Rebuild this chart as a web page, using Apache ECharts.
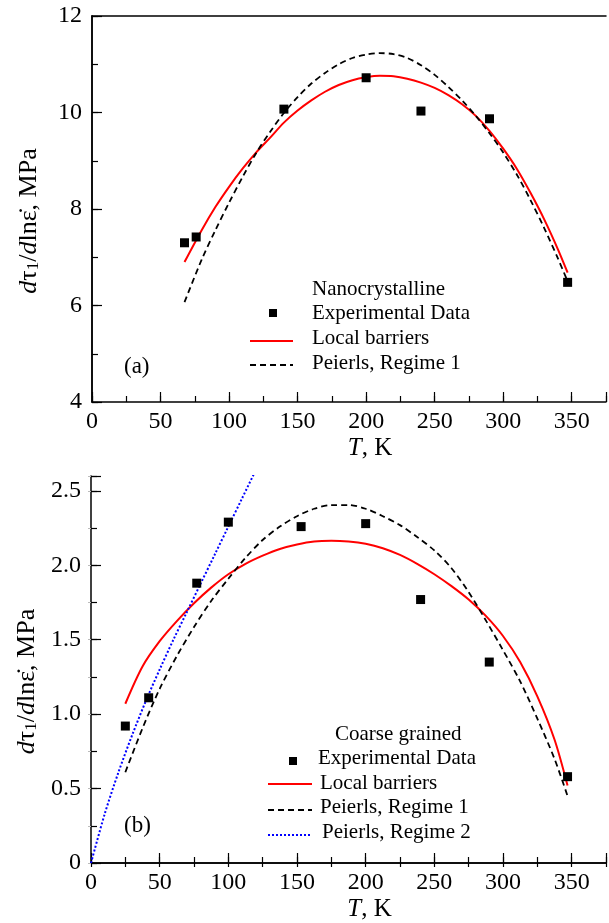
<!DOCTYPE html>
<html>
<head>
<meta charset="utf-8">
<script src="https://cdn.jsdelivr.net/npm/echarts@6.0.0/dist/echarts.min.js"></script>
<style>
  html, body { margin: 0; padding: 0; background: #fff; }
  #chart { width: 609px; height: 923px; }
</style>
</head>
<body>
<div id="chart"></div>
<script>
// (a) nanocrystalline
const expNanoT = [67.5, 76, 140, 200, 240, 290, 347];
const expNano = [7.30, 7.42, 10.07, 10.72, 10.03, 9.87, 6.48];

const localNanoT = [67.5, 80, 90, 100, 110, 120, 130, 140, 150, 160, 170, 180, 190, 200, 210, 220, 230, 240, 250, 260, 270, 280, 290, 300, 310, 320, 330, 340, 347];
const localNano = [6.90, 7.56, 8.04, 8.46, 8.84, 9.18, 9.48, 9.79, 10.04, 10.25, 10.43, 10.57, 10.67, 10.73, 10.76, 10.75, 10.70, 10.62, 10.51, 10.36, 10.17, 9.93, 9.62, 9.25, 8.83, 8.33, 7.78, 7.16, 6.68];

const peierlsNanoT = [67.5, 80, 90, 100, 110, 120, 130, 140, 150, 160, 170, 180, 190, 200, 210, 220, 230, 240, 250, 260, 270, 280, 290, 300, 310, 320, 330, 340, 347];
const peierlsNano = [6.07, 6.95, 7.56, 8.13, 8.67, 9.17, 9.60, 9.99, 10.32, 10.60, 10.82, 11.00, 11.13, 11.20, 11.23, 11.21, 11.13, 10.98, 10.78, 10.53, 10.25, 9.93, 9.57, 9.17, 8.71, 8.18, 7.60, 6.97, 6.50];

// (b) coarse grained
const expCoarseT = [25, 42, 77, 100, 153, 200, 240, 290, 347];
const expCoarse = [0.92, 1.11, 1.88, 2.29, 2.26, 2.28, 1.77, 1.35, 0.58];

const localCoarseT = [25, 37.5, 50, 62.5, 75, 87.5, 100, 112.5, 125, 137.5, 150, 162.5, 175, 187.5, 200, 212.5, 225, 237.5, 250, 262.5, 275, 287.5, 300, 312.5, 325, 337.5, 347];
const localCoarse = [1.07, 1.32, 1.49, 1.625, 1.745, 1.85, 1.94, 2.01, 2.065, 2.11, 2.14, 2.16, 2.165, 2.16, 2.145, 2.115, 2.07, 2.01, 1.94, 1.86, 1.77, 1.66, 1.525, 1.35, 1.12, 0.83, 0.52];

const peierls1CoarseT = [25, 37.5, 50, 62.5, 75, 87.5, 100, 112.5, 125, 137.5, 150, 162.5, 175, 187.5, 200, 212.5, 225, 237.5, 250, 262.5, 275, 287.5, 300, 312.5, 325, 337.5, 347];
const peierls1Coarse = [0.61, 0.905, 1.17, 1.39, 1.585, 1.76, 1.91, 2.05, 2.17, 2.26, 2.33, 2.38, 2.405, 2.405, 2.38, 2.33, 2.27, 2.19, 2.10, 1.98, 1.82, 1.63, 1.43, 1.22, 0.97, 0.70, 0.45];

const peierls2CoarseT = [0, 10, 20, 30, 40, 50, 60, 70, 80, 90, 100, 110, 120];
const peierls2Coarse = [0, 0.33, 0.61, 0.86, 1.09, 1.30, 1.50, 1.69, 1.88, 2.07, 2.26, 2.45, 2.64];

const xTicksMajor = 50;
const xTicksMinor = 25;

const FONT = '"Liberation Serif", "Times New Roman", serif';

function zip(xs, ys) {
    return xs.map((x, i) => [x, ys[i]]);
}

const chart = echarts.init(document.getElementById('chart'), null, { renderer: 'canvas' });

const axisLine = { show: true, lineStyle: { color: '#000', width: 1.5 } };
const labelStyle = { color: '#000', fontFamily: FONT, fontSize: 24 };

function xMajor(gridIndex) {
    return {
        type: 'value', gridIndex, position: 'bottom',
        min: 0, max: 375, interval: xTicksMajor,
        axisLine,
        axisTick: { show: true, inside: true, length: 10, lineStyle: { color: '#000', width: 1.2 } },
        axisLabel: {
            ...labelStyle, margin: 8,
            formatter: v => (v % 50 === 0 ? String(v) : '')
        },
        splitLine: { show: false },
        name: '{i|T}, K',
        nameLocation: 'middle',
        nameGap: 34,
        nameTextStyle: {
            color: '#000', fontFamily: FONT, fontSize: 25, padding: [0, 0, 0, 42],
            rich: { i: { fontStyle: 'italic', fontFamily: FONT, fontSize: 25 } }
        }
    };
}

function xMinor(gridIndex) {
    return {
        type: 'value', gridIndex, position: 'bottom',
        min: 0, max: 375, interval: xTicksMinor,
        axisLine: { show: false },
        axisTick: { show: true, inside: true, length: 6, lineStyle: { color: '#000', width: 1.2 } },
        axisLabel: { show: false },
        splitLine: { show: false }
    };
}

function xTop(gridIndex, ticks) {
    return {
        type: 'value', gridIndex, position: 'top',
        min: 0, max: 375, interval: xTicksMinor,
        axisLine,
        axisTick: { show: ticks, inside: true, length: 4, lineStyle: { color: '#000', width: 1.2 } },
        axisLabel: { show: false },
        splitLine: { show: false }
    };
}

const yName = '{i|d}τ{s|1}/{i|d}lnε̇, MPa';
const yNameStyle = {
    color: '#000', fontFamily: FONT, fontSize: 26,
    padding: [0, 24, 0, 0],
    rich: {
        i: { fontStyle: 'italic', fontFamily: FONT, fontSize: 26 },
        s: { fontFamily: FONT, fontSize: 17, verticalAlign: 'bottom', lineHeight: 20 }
    }
};

const lineCommon = { type: 'line', smooth: 0.3, showSymbol: false, z: 3 };
const scatterCommon = { type: 'scatter', symbol: 'rect', symbolSize: 9, itemStyle: { color: '#000', opacity: 1 }, z: 4 };

const option = {
    animation: false,
    backgroundColor: '#fff',
    textStyle: { fontFamily: FONT },
    grid: [
        { left: 92, top: 16, right: 2, height: 386 },
        { left: 91, top: 476, right: 1, height: 387 }
    ],
    xAxis: [
        xMajor(0),
        xMinor(0),
        xTop(0, false),
        xMajor(1),
        xMinor(1),
        xTop(1, true)
    ],
    yAxis: [
        {
            type: 'value', gridIndex: 0, position: 'left',
            min: 4, max: 12, interval: 2,
            axisLine,
            axisTick: { show: true, inside: true, length: 10, lineStyle: { color: '#000', width: 1.2 } },
            axisLabel: { ...labelStyle, margin: 10 },
            splitLine: { show: false },
            name: yName, nameLocation: 'middle', nameGap: 50, nameRotate: 90,
            nameTextStyle: yNameStyle
        },
        {
            type: 'value', gridIndex: 0, position: 'left',
            min: 4, max: 12, interval: 1,
            axisLine: { show: false },
            axisTick: { show: true, inside: true, length: 6, lineStyle: { color: '#000', width: 1.2 } },
            axisLabel: { show: false },
            splitLine: { show: false }
        },
        {
            type: 'value', gridIndex: 0, position: 'right',
            min: 4, max: 12,
            axisLine,
            axisTick: { show: false },
            axisLabel: { show: false },
            splitLine: { show: false }
        },
        {
            type: 'value', gridIndex: 1, position: 'left',
            min: 0, max: 2.6, interval: 0.5,
            axisLine,
            axisTick: { show: true, inside: true, length: 10, lineStyle: { color: '#000', width: 1.2 } },
            axisLabel: {
                ...labelStyle, margin: 10,
                formatter: v => {
                    if (Math.abs(v * 2 - Math.round(v * 2)) > 1e-6) return '';
                    return v === 0 ? '0' : v.toFixed(1);
                }
            },
            splitLine: { show: false },
            name: yName, nameLocation: 'middle', nameGap: 50, nameRotate: 90,
            nameTextStyle: yNameStyle
        },
        {
            type: 'value', gridIndex: 1, position: 'left',
            min: 0, max: 2.6, interval: 0.25,
            axisLine: { show: false },
            axisTick: { show: true, inside: true, length: 6, lineStyle: { color: '#000', width: 1.2 } },
            axisLabel: { show: false },
            splitLine: { show: false }
        },
        {
            type: 'value', gridIndex: 1, position: 'right',
            min: 0, max: 2.6, interval: 0.25,
            axisLine: { show: false },
            axisTick: { show: true, inside: true, length: 3, lineStyle: { color: '#bbb', width: 1 } },
            axisLabel: { show: false },
            splitLine: { show: false }
        }
    ],
    series: [
        {
            ...lineCommon, name: 'Local barriers (a)', xAxisIndex: 0, yAxisIndex: 0,
            data: zip(localNanoT, localNano),
            lineStyle: { color: '#f00', width: 2 }
        },
        {
            ...lineCommon, name: 'Peierls 1 (a)', xAxisIndex: 0, yAxisIndex: 0,
            data: zip(peierlsNanoT, peierlsNano),
            lineStyle: { color: '#000', width: 1.8, type: [6, 4] }
        },
        {
            ...scatterCommon, name: 'Experimental (a)', xAxisIndex: 0, yAxisIndex: 0,
            data: zip(expNanoT, expNano)
        },
        {
            ...lineCommon, name: 'Local barriers (b)', xAxisIndex: 3, yAxisIndex: 3,
            data: zip(localCoarseT, localCoarse),
            lineStyle: { color: '#f00', width: 2 }
        },
        {
            ...lineCommon, name: 'Peierls 1 (b)', xAxisIndex: 3, yAxisIndex: 3,
            data: zip(peierls1CoarseT, peierls1Coarse),
            lineStyle: { color: '#000', width: 1.8, type: [6, 4] }
        },
        {
            ...lineCommon, name: 'Peierls 2 (b)', xAxisIndex: 3, yAxisIndex: 3,
            data: zip(peierls2CoarseT, peierls2Coarse), clip: true,
            lineStyle: { color: '#00f', width: 2, type: [2, 2] }
        },
        {
            ...scatterCommon, name: 'Experimental (b)', xAxisIndex: 3, yAxisIndex: 3,
            data: zip(expCoarseT, expCoarse)
        }
    ],
    graphic: {
        elements: [
            // legend (a)
            { type: 'text', left: 312, top: 279, style: { text: 'Nanocrystalline', font: '21px "Liberation Serif"', fill: '#000' } },
            { type: 'rect', shape: { x: 269, y: 309, width: 8, height: 8 }, style: { fill: '#000' } },
            { type: 'text', left: 312, top: 303, style: { text: 'Experimental Data', font: '21px "Liberation Serif"', fill: '#000' } },
            { type: 'line', shape: { x1: 250, y1: 341, x2: 293, y2: 341 }, style: { stroke: '#f00', lineWidth: 2 } },
            { type: 'text', left: 312, top: 328, style: { text: 'Local barriers', font: '21px "Liberation Serif"', fill: '#000' } },
            { type: 'line', shape: { x1: 250, y1: 365, x2: 293, y2: 365 }, style: { stroke: '#000', lineWidth: 1.8, lineDash: [6, 4] } },
            { type: 'text', left: 312, top: 353, style: { text: 'Peierls, Regime 1', font: '21px "Liberation Serif"', fill: '#000' } },
            { type: 'text', left: 124, top: 355, style: { text: '(a)', font: '23px "Liberation Serif"', fill: '#000' } },
            // legend (b)
            { type: 'text', left: 335, top: 724, style: { text: 'Coarse grained', font: '21px "Liberation Serif"', fill: '#000' } },
            { type: 'rect', shape: { x: 289, y: 757, width: 8, height: 8 }, style: { fill: '#000' } },
            { type: 'text', left: 318, top: 748, style: { text: 'Experimental Data', font: '21px "Liberation Serif"', fill: '#000' } },
            { type: 'line', shape: { x1: 268, y1: 784, x2: 312, y2: 784 }, style: { stroke: '#f00', lineWidth: 2 } },
            { type: 'text', left: 320, top: 773, style: { text: 'Local barriers', font: '21px "Liberation Serif"', fill: '#000' } },
            { type: 'line', shape: { x1: 268, y1: 810, x2: 312, y2: 810 }, style: { stroke: '#000', lineWidth: 1.8, lineDash: [6, 4] } },
            { type: 'text', left: 320, top: 797, style: { text: 'Peierls, Regime 1', font: '21px "Liberation Serif"', fill: '#000' } },
            { type: 'line', shape: { x1: 268, y1: 835, x2: 311, y2: 835 }, style: { stroke: '#00f', lineWidth: 2, lineDash: [2, 2] } },
            { type: 'text', left: 322, top: 822, style: { text: 'Peierls, Regime 2', font: '21px "Liberation Serif"', fill: '#000' } },
            { type: 'text', left: 124, top: 814, style: { text: '(b)', font: '23px "Liberation Serif"', fill: '#000' } }
        ]
    }
};

chart.setOption(option);
</script>
</body>
</html>
